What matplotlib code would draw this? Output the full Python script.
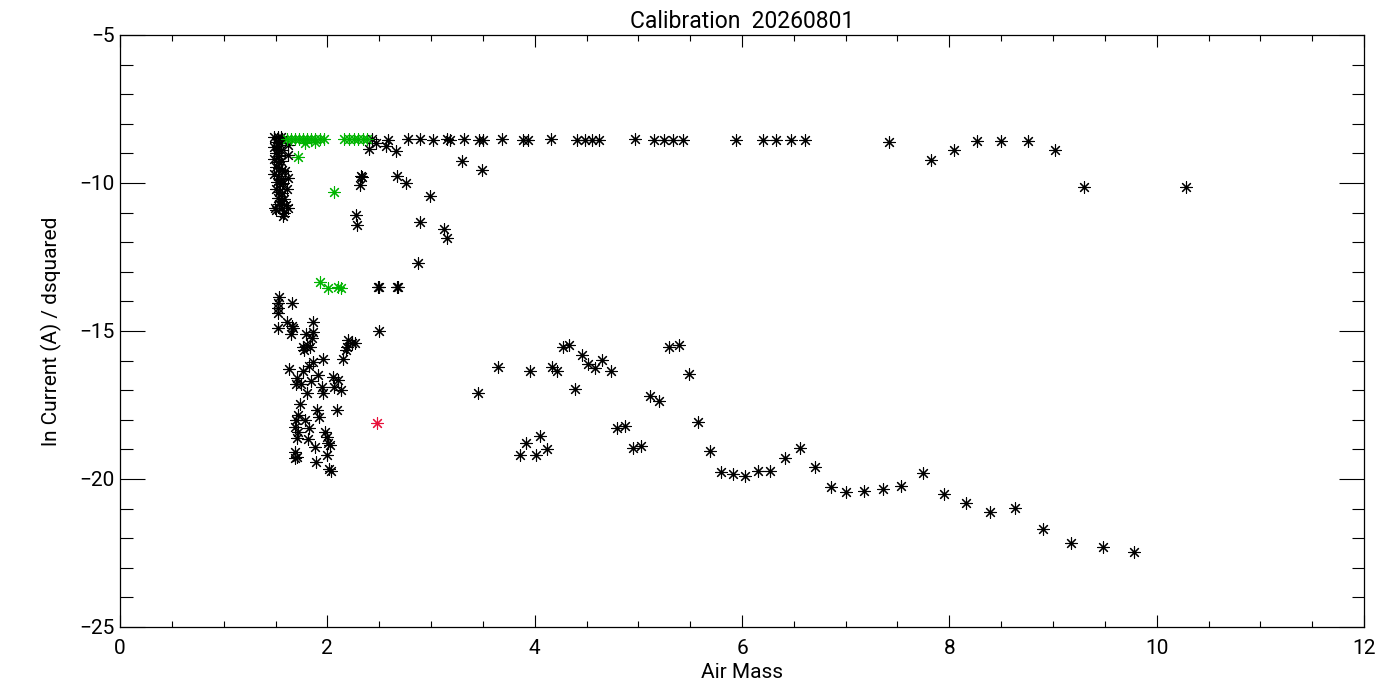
import numpy as np
import matplotlib
matplotlib.use("Agg")
import matplotlib.pyplot as plt
from matplotlib.ticker import MultipleLocator

# black points (air mass, ln current / d^2)
black_x = [
    # dense column near airmass 1.5
    1.49, 1.52, 1.55, 1.50, 1.53, 1.56, 1.49, 1.52, 1.55, 1.50, 1.53, 1.49,
    1.52, 1.55, 1.50, 1.53, 1.56, 1.49, 1.52, 1.55, 1.51, 1.54, 1.57, 1.50,
    1.53, 1.56, 1.52, 1.55, 1.58, 1.53, 1.56, 1.60, 1.50, 1.58,
    1.625, 1.625, 1.496, 1.625, 1.576, 1.624, 1.59, 1.61,
    # top row, saturated
    2.435, 2.589, 2.782, 2.895, 3.023, 3.153, 3.184, 3.322, 3.467, 3.506,
    3.689, 3.886, 3.934, 4.159, 4.413, 4.487, 4.552, 4.616, 4.968, 5.148,
    5.245, 5.338, 5.435, 5.944, 6.206, 6.331, 6.475, 6.608, 7.415, 8.269,
    8.501, 8.756,
    2.467, 2.406, 2.567, 2.660,
    7.820, 8.046, 9.022, 9.302, 10.285,
    # upper middle branch
    3.297, 3.496, 2.332, 2.320, 2.316, 2.676, 2.763, 2.991, 2.277, 2.290,
    2.895, 3.129, 3.158, 2.879, 2.493, 2.500, 2.676, 2.685,
    # lower cluster near airmass 2
    1.537, 1.528, 1.528, 1.528, 1.663, 1.528, 1.608, 1.657, 1.666, 1.650,
    1.865, 1.795, 1.865, 1.850, 1.769, 1.776, 1.801, 1.833, 2.203, 2.236,
    2.268, 2.187, 2.181, 2.155, 2.499, 1.956, 1.865, 1.824, 1.769, 1.634,
    1.913, 1.840, 1.705, 1.695, 1.744, 1.808, 1.946, 1.962, 2.053, 2.107,
    2.068, 2.133, 2.091, 1.904, 1.737, 1.923, 1.721, 1.698, 1.785, 1.824,
    1.689, 1.721, 1.978, 2.001, 1.705, 1.817, 2.004, 2.026, 1.882, 1.689,
    1.689, 1.705, 1.994, 1.891, 2.020, 2.036,
    # lower branch, airmass 3.5 - 10
    3.458, 3.651, 3.956, 4.166, 4.220, 4.278, 4.336, 4.391, 4.461, 4.519,
    4.584, 4.654, 4.735, 5.114, 5.204, 5.291, 5.388, 5.484, 5.580,
    3.915, 3.860, 4.011, 4.053, 4.117, 4.799, 4.873, 4.947, 5.028,
    5.687, 5.797, 5.909, 6.025, 6.150, 6.272, 6.411, 6.555, 6.700, 6.854,
    7.006, 7.179, 7.356, 7.536, 7.742, 7.945, 8.164, 8.395, 8.637, 8.900,
    9.177, 9.479, 9.785,
]
black_y = [
    -8.45, -8.45, -8.45, -8.60, -8.65, -8.55, -8.80, -8.85, -8.90, -9.00, -9.10, -9.20,
    -9.30, -9.25, -9.45, -9.50, -9.55, -9.70, -9.75, -9.85, -9.95, -10.05, -10.00, -10.20,
    -10.30, -10.35, -10.50, -10.60, -10.55, -10.70, -10.85, -10.75, -10.90, -11.00,
    -9.04, -9.83, -10.84, -10.84, -11.12, -8.72, -9.60, -10.20,
    -8.52, -8.55, -8.52, -8.52, -8.55, -8.52, -8.55, -8.52, -8.55, -8.55,
    -8.52, -8.55, -8.55, -8.52, -8.55, -8.55, -8.55, -8.55, -8.52, -8.55,
    -8.55, -8.55, -8.55, -8.55, -8.55, -8.55, -8.55, -8.55, -8.60, -8.58,
    -8.58, -8.58,
    -8.64, -8.86, -8.75, -8.91,
    -9.22, -8.90, -8.90, -10.13, -10.13,
    -9.27, -9.57, -9.79, -9.75, -10.07, -9.76, -10.01, -10.45, -11.09, -11.43,
    -11.33, -11.57, -11.86, -12.69, -13.50, -13.52, -13.50, -13.52,
    -13.86, -14.06, -14.23, -14.40, -14.06, -14.89, -14.69, -14.83, -14.91, -15.11,
    -14.71, -15.11, -15.02, -15.25, -15.53, -15.64, -15.47, -15.53, -15.30, -15.42,
    -15.39, -15.53, -15.64, -15.95, -14.99, -15.93, -16.04, -16.18, -16.34, -16.29,
    -16.49, -16.68, -16.60, -16.79, -16.79, -17.10, -16.88, -17.10, -16.57, -16.64,
    -16.88, -16.99, -17.67, -17.67, -17.48, -17.89, -17.84, -18.01, -18.01, -18.29,
    -18.23, -18.40, -18.40, -18.57, -18.63, -18.66, -18.79, -18.85, -18.93, -19.08,
    -19.30, -19.25, -19.19, -19.42, -19.67, -19.73,
    -17.10, -16.21, -16.35, -16.21, -16.34, -15.55, -15.47, -16.96, -15.81, -16.13,
    -16.24, -15.98, -16.34, -17.20, -17.36, -15.55, -15.47, -16.46, -18.09,
    -18.79, -19.19, -19.19, -18.54, -19.00, -18.29, -18.20, -18.96, -18.88,
    -19.04, -19.77, -19.84, -19.89, -19.73, -19.73, -19.30, -18.96, -19.61, -20.28,
    -20.45, -20.41, -20.34, -20.24, -19.81, -20.52, -20.82, -21.10, -20.99, -21.70,
    -22.15, -22.31, -22.48,
]

green_x = [1.611, 1.650, 1.689, 1.727, 1.766, 1.805, 1.843, 1.882, 1.930, 1.969,
           2.162, 2.210, 2.258, 2.297, 2.345, 2.384, 1.78, 1.88,
           1.72, 2.065, 1.93, 2.01, 2.107, 2.13]
green_y = [-8.52, -8.52, -8.52, -8.52, -8.52, -8.52, -8.52, -8.52, -8.52, -8.52,
           -8.52, -8.52, -8.52, -8.52, -8.52, -8.52, -8.65, -8.62,
           -9.13, -10.30, -13.33, -13.56, -13.52, -13.55]

red_x = [2.48]
red_y = [-18.12]

title = "Calibration  20260801"
xlabel = "Air Mass"
ylabel = "ln Current (A) / dsquared"

plt.rcParams['font.family'] = ['Roboto', 'DejaVu Sans']
plt.rcParams['axes.unicode_minus'] = True

fig = plt.figure(figsize=(14, 7), dpi=100)
ax = fig.add_axes([120 / 1400, 73 / 700, 1244 / 1400, 592 / 700])

star = (8, 2, 0)
kw = dict(marker=star, s=70, linewidths=0.8)
ax.scatter(black_x, black_y, color='black', **kw)
ax.scatter(green_x, green_y, color='#00b400', **kw)
ax.scatter(red_x, red_y, color='#e8103a', **kw)

ax.set_xlim(0, 12)
ax.set_ylim(-25, -5)
ax.xaxis.set_major_locator(MultipleLocator(2))
ax.xaxis.set_minor_locator(MultipleLocator(0.5))
ax.yaxis.set_major_locator(MultipleLocator(5))
ax.yaxis.set_minor_locator(MultipleLocator(1))

ax.tick_params(axis='x', which='major', direction='in', length=8.6, width=0.8,
               top=True, labelsize=15, pad=9)
ax.tick_params(axis='x', which='minor', direction='in', length=4.3, width=0.8, top=True)
ax.tick_params(axis='y', which='major', direction='in', length=18, width=0.8,
               right=True, labelsize=15, pad=4)
ax.tick_params(axis='y', which='minor', direction='in', length=9, width=0.8, right=True)
for s in ax.spines.values():
    s.set_linewidth(0.9)

ax.set_title(title, fontsize=16.5, pad=5)
ax.set_xlabel(xlabel, fontsize=15, labelpad=3)
ax.set_ylabel(ylabel, fontsize=15, labelpad=12)

fig.savefig("out.png", dpi=100)
